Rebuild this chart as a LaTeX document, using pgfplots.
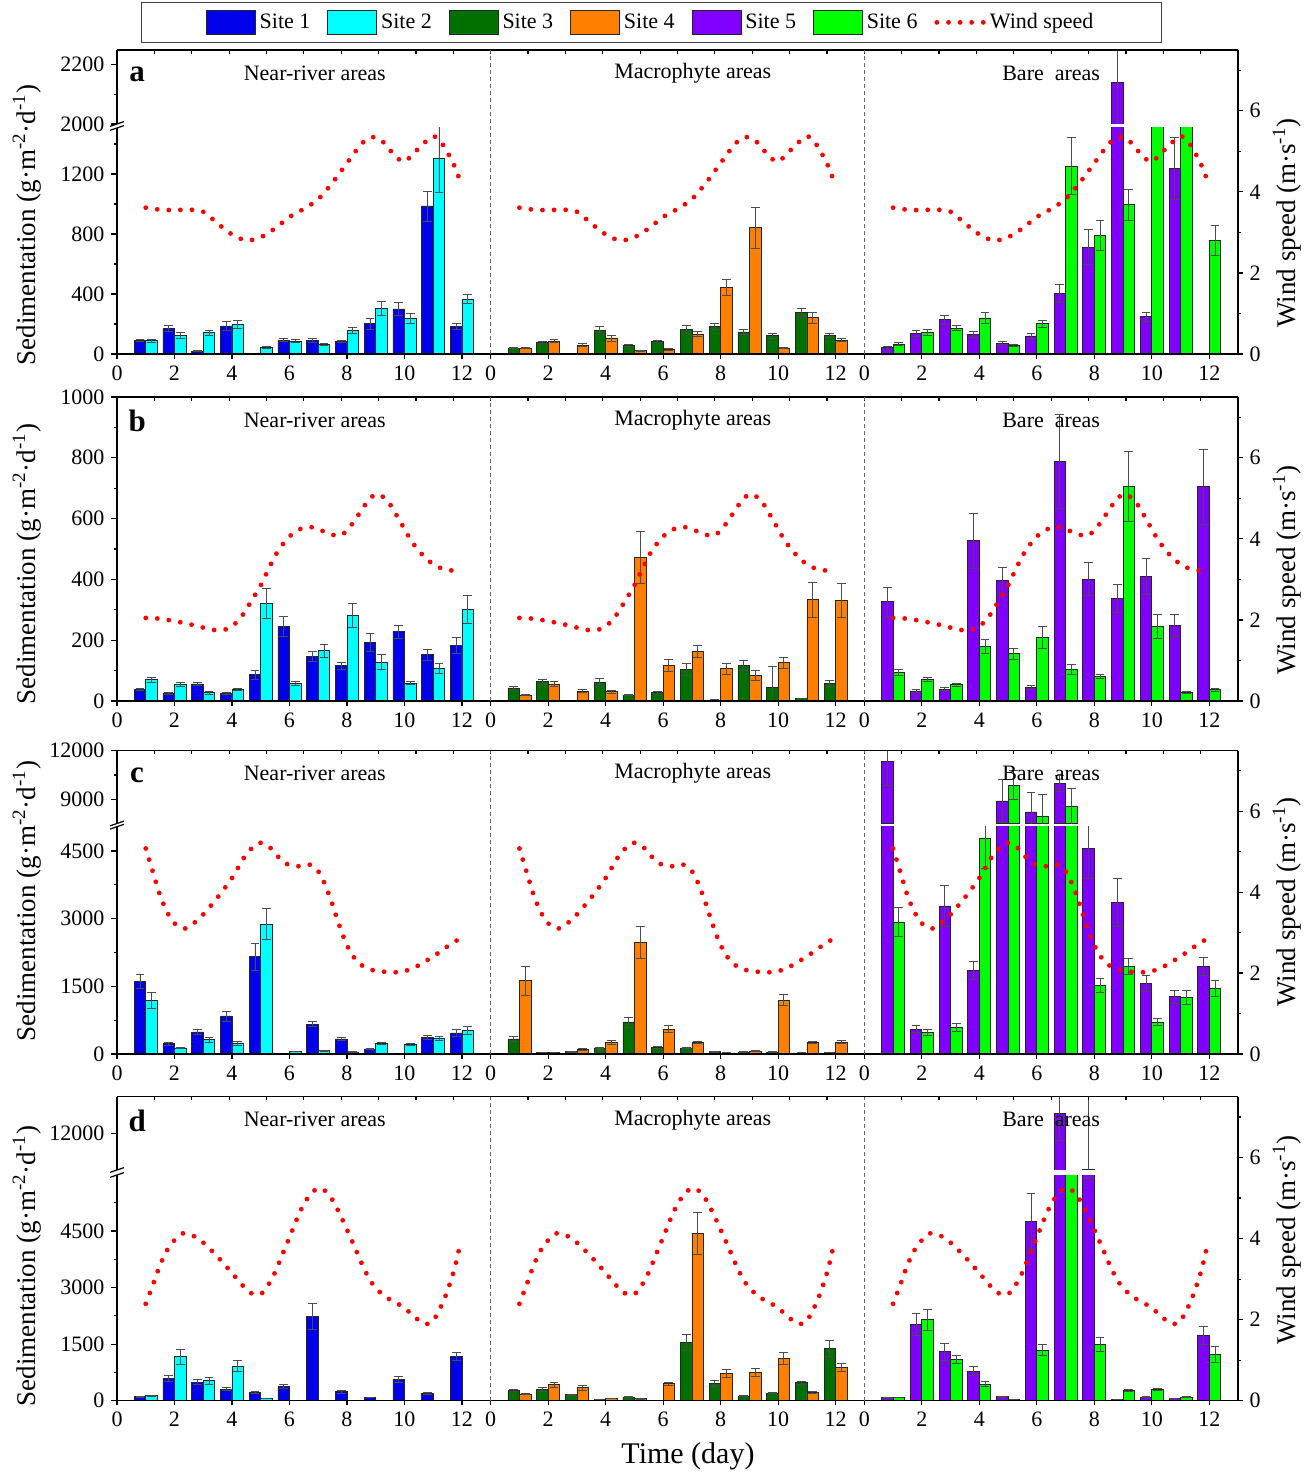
\documentclass[border=0pt]{standalone}
\usepackage{fontspec}
\setmainfont{Liberation Serif}
\usepackage{pgfplots}
\usepackage{pgfplotstable}
\pgfplotsset{compat=1.18}

\definecolor{cS1}{RGB}{0,0,235}
\definecolor{cS2}{RGB}{0,255,255}
\definecolor{cS3}{RGB}{0,112,0}
\definecolor{cS4}{RGB}{255,128,0}
\definecolor{cS5}{RGB}{128,0,255}
\definecolor{cS6}{RGB}{0,255,0}

% sedimentation, g m-2 d-1 (mean and error) for sites 1-6, day 1-12
\pgfplotstableread{
d  s1   e1  s2   e2  s3  e3 s4  e4  s5   e5  s6   e6
1  89   8   89   10  38  4  38  4   44   5   67   8
2  169  20  124  22  76  6  84  10  138  20  144  20
3  18   3   142  18  5   1  60  10  229  30  173  18
4  187  30  198  28  156 28 107 20  131  18  240  35
5  2    1   44   6   56  5  22  4   71   10  58   6
6  93   10  84   10  84  8  31  4   120  14  202  22
7  91   12  62   8   162 28 133 15  402  60  1253 190
8  82   8   156  18  184 18 444 55  713  116 791  98
9  202  35  304  45  147 18 842 138 2139 250 996  104
10 300  42  238  35  122 16 40  3   249  30  1800 0
11 987  100 1302 225 278 25 242 35  1236 205 1800 0
12 182  20  367  28  124 15 91  10  nan  nan 756  100
}\tabA

\pgfplotstableread{
d  s1   e1  s2   e2  s3  e3 s4  e4  s5   e5  s6   e6
1  38   4   70   8   43  5  20  3   327  48  95   10
2  24   3   55   6   64  8  56  8   33   5   72   7
3  56   6   27   4   2   1  33  4   39   5   54   5
4  24   3   38   4   61  12 31  5   527  90  180  22
5  87   15  322  50  19  2  472 85  396  45  156  18
6  245  33  57   7   27  3  118 20  45   6   209  35
7  146  16  165  22  105 20 164 20  788  155 104  18
8  116  12  282  40  3   1  106 18  401  55  82   7
9  192  30  128  25  116 17 85  16  338  45  707  115
10 228  22  59   6   44  71 126 18  410  60  245  40
11 152  18  108  17  9   1  333 57  249  35  27   3
12 183  27  302  46  57  10 331 57  705  123 37   4
}\tabB

\pgfplotstableread{
d  s1   e1  s2   e2  s3  e3  s4   e4  s5    e5   s6   e6
1  1611 160 1183 180 333 60  1626 325 11318 1450 2927 330
2  229  30  133  20  30  5   37   5   554   80   473  70
3  488  50  318  60  52  8   103  15  3282  460  599  90
4  843  110 244  45  133 20  251  40  1855  200  4782 660
5  2158 300 2882 350 710 110 2483 355 8895  1300 9863 900
6  15   3   59   8   148 20  554  70  8217  1200 7970 1300
7  665  60  74   8   133 15  259  30  9986  500  8544 1100
8  333  40  44   5   52  6   22   3   4553  660  1515 160
9  111  15  237  30  44  5   67   8   3363  530  1936 180
10 nan  nan 214  30  44  5   1197 130 1567  180  710  80
11 370  50  347  45  22  3   259  30  1271  150  1249 160
12 466  70  525  80  37  4   266  35  1936  200  1456 170
}\tabC

\pgfplotstableread{
d  s1   e1  s2   e2  s3   e3  s4   e4  s5    e5   s6   e6
1  106  10  132  12  274  30  177  20  79    8    88   8
2  591  90  1165 190 309  50  424  70  2021  300  2154 280
3  494  70  530  90  159  20  344  65  1297  220  1094 110
4  309  40  918  140 35   5   62   8   786   120  441  60
5  212  30  62   8   97   15  53   6   106   12   26   3
6  380  45  nan  nan 9    1   450  35  4757  750  1341 150
7  2233 345 nan  nan 1545 200 4440 560 13091 1500 7500 0
8  238  35  nan  nan 459  75  724  110 10050 4150 1492 180
9  88   12  nan  nan 124  12  750  110 35    4    282  25
10 574  80  nan  nan 203  15  1121 160 97    10   300  25
11 185  30  nan  nan 477  40  212  25  62    6    97   8
12 1174 100 nan  nan 1386 210 883  100 1739  240  1227 200
}\tabD

% wind speed, m s-1
\pgfplotstableread{
t    w
1    3.61
1.5  3.56
2    3.55
2.5  3.56
3    3.51
3.5  3.22
4    2.95
4.5  2.80
5    2.88
5.5  3.10
6    3.38
6.5  3.58
7    3.82
7.5  4.23
8    4.71
8.5  5.18
8.85 5.35
9.2  5.27
9.6  4.95
10   4.75
10.6 5.15
11   5.37
11.3 5.20
11.7 4.70
12   4.15
}\windA

\pgfplotstableread{
t    w
1    2.05
1.5  2.03
2    1.97
2.5  1.90
3    1.81
3.4  1.75
3.8  1.77
4.1  1.90
4.4  2.15
4.7  2.50
5    2.85
5.3  3.30
5.6  3.70
6    4.06
6.4  4.25
6.75 4.29
7.1  4.21
7.5  4.10
7.8  4.09
8.1  4.29
8.5  4.70
8.8  5.00
9.1  5.10
9.45 4.90
9.85 4.43
10.25 3.94
10.7 3.55
11.1 3.33
11.5 3.23
11.9 3.22
}\windB

\pgfplotstableread{
t    w
1    5.08
1.25 4.50
1.5  3.92
1.75 3.50
2    3.23
2.35 3.10
2.65 3.22
3    3.45
3.5  3.87
4    4.35
4.5  4.94
4.95 5.22
5.3  5.12
5.6  4.88
5.9  4.70
6.3  4.64
6.65 4.69
6.95 4.57
7.2  4.25
7.45 3.79
7.7  3.25
7.95 2.77
8.2  2.43
8.5  2.20
8.8  2.09
9.2  2.04
9.6  2.02
9.9  2.03
10.3 2.12
10.65 2.26
11   2.41
11.3 2.56
11.6 2.71
11.9 2.84
}\windC

\pgfplotstableread{
t    w
1    2.39
1.25 2.86
1.5  3.35
1.75 3.72
2    3.96
2.3  4.13
2.65 4.07
3    3.90
3.5  3.55
4    3.15
4.4  2.82
4.7  2.64
5    2.63
5.25 2.84
5.5  3.17
5.75 3.60
6    4.03
6.25 4.47
6.5  4.85
6.8  5.15
7.1  5.24
7.4  5.06
7.7  4.68
8    4.22
8.3  3.74
8.6  3.25
8.9  2.87
9.3  2.58
9.65 2.44
10   2.29
10.3 2.10
10.65 1.91
10.95 1.93
11.2 2.22
11.4 2.53
11.6 2.93
11.75 3.28
11.93 3.83
}\windD

\pgfplotsset{
  base/.style={scale only axis, width=560.5pt, xmin=0, xmax=39,
    clip mode=individual, tick align=outside,
    major tick length=2.8pt, minor tick length=1.6pt,
    axis line style={line width=0.7pt},
    every tick/.style={black, line width=0.6pt},
    tick label style={font=\fontsize{11}{13}\selectfont},
    /pgf/number format/assume math mode=true,
    /pgf/number format/1000 sep={},
    scaled y ticks=false},
  sed/.style={base, hide x axis, axis y line*=left},
  wind/.style={base, axis x line*=bottom, axis y line*=right,
    ymin=0, ymax=7.5, ytick={0,2,4,6}, minor ytick={1,3,5,7},
    xtick={0,2,4,6,8,10,12,13,15,17,19,21,23,25,26,28,30,32,34,36,38},
    xticklabels={0,2,4,6,8,10,12,0,2,4,6,8,10,12,0,2,4,6,8,10,12},
    major tick length=2.3pt},
  topt/.style={base, axis x line*=top, hide y axis, ymin=0, ymax=1,
    tick align=inside, xtick={0,1.3,...,39}, xticklabels={},
    major tick length=1.8pt},
  bar/.style={ybar, bar width=0.4, bar shift=0pt, draw=black!85, line width=0.35pt},
  eb/.style={error bars/.cd, y dir=both, y explicit,
    error bar style={line width=0.4pt, black!70},
    error mark options={rotate=90, mark size=2.2pt, line width=0.4pt, black!70}},
  windst/.style={red, line width=2.4pt, line cap=round,
    dash pattern=on 0pt off 5.8pt, smooth, mark=none},
  legbox/.style={legend image code/.code={\draw[##1] (0pt,-5.8pt) rectangle (24.5pt,5.8pt);}},
  legline/.style={legend image code/.code={\draw[##1] (0pt,0pt) -- (23.3pt,0pt);}}
}

% site pairs side by side: left bar at day-0.2, right bar at day+0.2
\newcommand{\sitebars}[1]{%
  \addplot[bar, fill=cS1, eb] table[x expr=\thisrow{d}-0.2, y=s1, y error=e1]{#1};
  \addplot[bar, fill=cS2, eb] table[x expr=\thisrow{d}+0.2, y=s2, y error=e2]{#1};
  \addplot[bar, fill=cS3, eb] table[x expr=\thisrow{d}+12.8, y=s3, y error=e3]{#1};
  \addplot[bar, fill=cS4, eb] table[x expr=\thisrow{d}+13.2, y=s4, y error=e4]{#1};
  \addplot[bar, fill=cS5, eb] table[x expr=\thisrow{d}+25.8, y=s5, y error=e5]{#1};
  \addplot[bar, fill=cS6, eb] table[x expr=\thisrow{d}+26.2, y=s6, y error=e6]{#1};
}
\newcommand{\windplots}[1]{%
  \addplot[windst, forget plot] table[x=t, y=w]{#1};
  \addplot[windst, forget plot] table[x expr=\thisrow{t}+13, y=w]{#1};
  \addplot[windst, forget plot] table[x expr=\thisrow{t}+26, y=w]{#1};
}
\newcommand{\decor}[1]{%
  \draw[black!60, line width=0.4pt, dash pattern=on 2pt off 1.5pt] (axis cs:13,0) -- (axis cs:13,7.5);
  \draw[black!60, line width=0.4pt, dash pattern=on 2pt off 1.5pt] (axis cs:26,0) -- (axis cs:26,7.5);
  \node[font=\fontsize{11}{13}\selectfont] at (axis cs:6.88,6.93) {Near-river areas};
  \node[font=\fontsize{11}{13}\selectfont] at (axis cs:20.03,6.93) {Macrophyte areas};
  \node[font=\fontsize{11}{13}\selectfont] at (axis cs:32.5,6.93) {Bare\ \ areas};
  \node[font=\fontsize{15.5}{17}\selectfont\bfseries] at (axis cs:0.7,6.9) {#1};
}
\newcommand{\brk}[1]{%
  \draw[line width=0.6pt] ([xshift=-3.5pt,yshift=-1.2pt]rel axis cs:0,#1) -- ([xshift=3.5pt,yshift=1.2pt]rel axis cs:0,#1);
}

\begin{document}
\begin{tikzpicture}
\useasboundingbox (0,0) rectangle (657.5pt,736pt);

% ---------- panel a ----------
\begin{axis}[sed, at={(58.5pt,559pt)}, anchor=south west, height=113pt,
  ymin=0, ymax=1507, ytick={0,400,800,1200}, minor ytick={200,600,1000,1400}]
  \sitebars{\tabA}
  \brk{1}
\end{axis}
\begin{axis}[sed, at={(58.5pt,674pt)}, anchor=south west, height=37pt,
  ymin=2000, ymax=2250, ytick={2000,2200}, minor ytick={2100},
  restrict y to domain=2000:100000]
  \sitebars{\tabA}
  \brk{0}
\end{axis}
\begin{axis}[topt, at={(58.5pt,559pt)}, anchor=south west, height=152pt]
\end{axis}
\begin{axis}[wind, at={(58.5pt,559pt)}, anchor=south west, height=152pt,
  legend columns=7,
  legend style={at={(axis description cs:0.477,1.023)}, anchor=south,
    draw=black!75, line width=0.5pt, inner xsep=32pt, inner ysep=3.5pt,
    font=\fontsize{11}{13}\selectfont,
    /tikz/every even column/.append style={column sep=6.5pt}}]
  \addlegendimage{legbox, fill=cS1, draw=black!85, line width=0.35pt}
  \addlegendentry{Site 1}
  \addlegendimage{legbox, fill=cS2, draw=black!85, line width=0.35pt}
  \addlegendentry{Site 2}
  \addlegendimage{legbox, fill=cS3, draw=black!85, line width=0.35pt}
  \addlegendentry{Site 3}
  \addlegendimage{legbox, fill=cS4, draw=black!85, line width=0.35pt}
  \addlegendentry{Site 4}
  \addlegendimage{legbox, fill=cS5, draw=black!85, line width=0.35pt}
  \addlegendentry{Site 5}
  \addlegendimage{legbox, fill=cS6, draw=black!85, line width=0.35pt}
  \addlegendentry{Site 6}
  \addlegendimage{legline, red, line width=2.4pt, line cap=round, dash pattern=on 0pt off 5.8pt}
  \addlegendentry{Wind speed}
  \windplots{\windA}
  \decor{a}
\end{axis}

% ---------- panel b ----------
\begin{axis}[sed, at={(58.5pt,385.5pt)}, anchor=south west, height=152pt,
  ymin=0, ymax=1000, ytick={0,200,400,600,800,1000}, minor ytick={100,300,500,700,900}]
  \sitebars{\tabB}
\end{axis}
\begin{axis}[topt, at={(58.5pt,385.5pt)}, anchor=south west, height=152pt]
\end{axis}
\begin{axis}[wind, at={(58.5pt,385.5pt)}, anchor=south west, height=152pt]
  \windplots{\windB}
  \decor{b}
\end{axis}

% ---------- panel c ----------
\begin{axis}[sed, at={(58.5pt,209pt)}, anchor=south west, height=113.65pt,
  ymin=0, ymax=5040, ytick={0,1500,3000,4500}, minor ytick={750,2250,3750}]
  \sitebars{\tabC}
  \brk{1}
\end{axis}
\begin{axis}[sed, at={(58.5pt,324.25pt)}, anchor=south west, height=36.4pt,
  ymin=7500, ymax=12000, ytick={9000,12000}, minor ytick={10500},
  restrict y to domain=7500:100000]
  \sitebars{\tabC}
  \brk{0}
\end{axis}
\begin{axis}[topt, at={(58.5pt,209pt)}, anchor=south west, height=151.7pt]
\end{axis}
\begin{axis}[wind, at={(58.5pt,209pt)}, anchor=south west, height=151.7pt]
  \windplots{\windC}
  \decor{c}
\end{axis}

% ---------- panel d ----------
\begin{axis}[sed, at={(58.5pt,35.65pt)}, anchor=south west, height=112.85pt,
  ymin=0, ymax=5985, ytick={0,1500,3000,4500}, minor ytick={750,2250,3750,5250}]
  \sitebars{\tabD}
  \brk{1}
\end{axis}
\begin{axis}[sed, at={(58.5pt,151pt)}, anchor=south west, height=36.65pt,
  ymin=10000, ymax=14000, ytick={12000},
  restrict y to domain=10000:100000]
  \sitebars{\tabD}
  \brk{0}
\end{axis}
\begin{axis}[topt, at={(58.5pt,35.65pt)}, anchor=south west, height=152pt]
\end{axis}
\begin{axis}[wind, at={(58.5pt,35.65pt)}, anchor=south west, height=152pt]
  \windplots{\windD}
  \decor{d}
\end{axis}

% ---------- axis titles ----------
\foreach \yy in {623.5,454,285.5,103} {
  \node[rotate=90, font=\fontsize{13.5}{15}\selectfont] at (13.5pt,\yy pt)
    {Sedimentation (g·m\textsuperscript{-2}·d\textsuperscript{-1})};
}
\foreach \yy in {624.5,451,285,116} {
  \node[rotate=90, font=\fontsize{13.5}{15}\selectfont] at (643.5pt,\yy pt)
    {Wind speed (m·s\textsuperscript{-1})};
}
\node[font=\fontsize{15}{17}\selectfont] at (344pt,8pt) {Time (day)};
\end{tikzpicture}
\end{document}
